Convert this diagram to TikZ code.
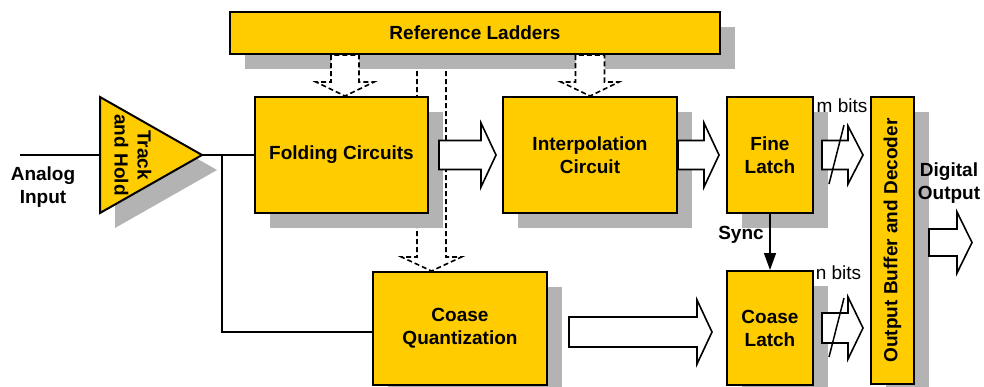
\documentclass[tikz,border=0pt]{standalone}
\usepackage{graphicx}
\usepackage{fontspec}
\setmainfont{Liberation Sans}
\usetikzlibrary{calc,shadows,arrows.meta,backgrounds}

\definecolor{blockfill}{HTML}{FFCC00}
\definecolor{shadowgray}{HTML}{B3B3B3}

\tikzset{
  block/.style={draw, line width=2pt, fill=blockfill, inner sep=0pt, align=center,
    font=\bfseries\fontsize{19}{23}\selectfont,
    drop shadow={shadow xshift=15pt, shadow yshift=-15pt, fill=shadowgray, opacity=1}},
  wire/.style={line width=1.5pt},
  barrow/.style={draw, line width=1.6pt, fill=white, line join=miter},
  dasharrow/.style={draw, line width=1.6pt, fill=white, dash pattern=on 5pt off 3pt},
  lbl/.style={font=\bfseries\fontsize{19}{23}\selectfont, align=center, inner sep=0pt},
  bits/.style={font=\fontsize{19}{23}\selectfont, inner sep=0pt},
}

% horizontal block arrow: start, tip, half shaft, half head
\newcommand{\hblock}[4]{%
  \draw[barrow] let \p1=#1, \p2=#2 in
    (\x1,\y2+#3) -- (\x2-15pt,\y2+#3) -- (\x2-15pt,\y2+#4) -- (\x2,\y2)
    -- (\x2-15pt,\y2-#4) -- (\x2-15pt,\y2-#3) -- (\x1,\y2-#3) -- cycle;}
% downward dashed block arrow: top reference, tip, half shaft, half head
\newcommand{\vblock}[4]{%
  \draw[dasharrow] let \p1=#1, \p2=#2 in
    (\x2-#3,\y1) -- (\x2-#3,\y2+14pt) -- (\x2-#4,\y2+14pt) -- (\x2,\y2)
    -- (\x2+#4,\y2+14pt) -- (\x2+#3,\y2+14pt) -- (\x2+#3,\y1) -- cycle;}

\begin{document}
\begin{tikzpicture}[x=1pt,y=1pt]
\useasboundingbox (0,0) rectangle (984,-386);
\clip (0,0) rectangle (984,-386);

% blocks
\node[block, minimum width=490pt, minimum height=42pt] (ref) at (475,-33) {Reference Ladders};
\node[block, minimum width=173pt, minimum height=116pt] (fold) at (341.5,-155) {Folding Circuits};
\node[block, minimum width=174pt, minimum height=116pt] (interp) at (590,-155) {Interpolation\\Circuit};
\node[block, minimum width=86pt, minimum height=116pt] (fine) at (770,-155) {Fine\\Latch};
\node[block, minimum width=86pt, minimum height=114pt] (clatch) at (770,-328) {Coase\\Latch};
\node[block, minimum width=174pt, minimum height=113pt] (cq) at (460,-328.5) {Coase\\Quantization};
\node[block, minimum width=43pt, minimum height=287pt] (buffer) at (892.5,-240.5)
  {\rotatebox{90}{Output Buffer and Decoder}};

% track and hold amplifier
\coordinate (th-in) at (100,-155);
\coordinate (th-out) at (202,-155);
\fill[shadowgray] (115,-112) -- (115,-228) -- (217,-170) -- cycle;
\draw[line width=2pt, fill=blockfill, line join=miter] (100,-97) -- (100,-213) -- (th-out) -- cycle;
\node[lbl, rotate=-90] (th) at (133,-155) {Track\\and Hold};

% reference feed to coarse quantizer, running behind the blocks
\begin{pgfonlayer}{background}
  \vblock{(ref.south)}{([xshift=-28.5pt]cq.north)}{14.5pt}{30pt}
\end{pgfonlayer}

% reference feeds to folding and interpolation
\vblock{(ref.south)}{([xshift=3.5pt]fold.north)}{14pt}{29pt}
\vblock{(ref.south)}{(interp.north)}{14.5pt}{29pt}

% signal wires
\coordinate (ain) at (20,-155);
\coordinate (br) at (222,-155);
\draw[wire] (ain) -- (th-in);
\draw[wire] (th-out) -- (fold.west);
\draw[wire] (br) |- ([yshift=-3.5pt]cq.west);
\draw[wire, -{Triangle[length=17pt,width=12pt]}] (fine.south) -- (clatch.north);

% data path arrows
\hblock{([xshift=10pt]fold.east)}{([xshift=-6pt]interp.west)}{14.5pt}{32pt}
\hblock{(interp.east)}{([xshift=-7pt]fine.west)}{14.5pt}{32pt}
\hblock{([xshift=21pt]cq.east)}{([xshift=-14pt,yshift=-4pt]clatch.west)}{15pt}{32pt}
\hblock{([xshift=8pt]fine.east)}{([xshift=-7pt]buffer.west |- fine.east)}{14.5pt}{29pt}
\hblock{([xshift=8pt]clatch.east)}{([xshift=-7pt]buffer.west |- clatch.east)}{15pt}{31pt}
\coordinate (dout) at (972,-242.5);
\hblock{([xshift=14pt]buffer.east)}{(dout)}{13.5pt}{30.5pt}

% bus width marks
\draw[wire] ($(fine.east)+(15,-29)$) -- ($(fine.east)+(30,30)$);
\draw[wire] ($(clatch.east)+(15,-29)$) -- ($(clatch.east)+(30,30)$);

% labels
\node[lbl] (ai) at (43,-187) {Analog\\Input};
\node[lbl] (dig) at (949,-183.5) {Digital\\Output};
\node[lbl] (sync) at (741,-235) {Sync};
\node[bits] (mbits) at (842,-106) {m bits};
\node[bits] (nbits) at (838.5,-273) {n bits};
\end{tikzpicture}
\end{document}
